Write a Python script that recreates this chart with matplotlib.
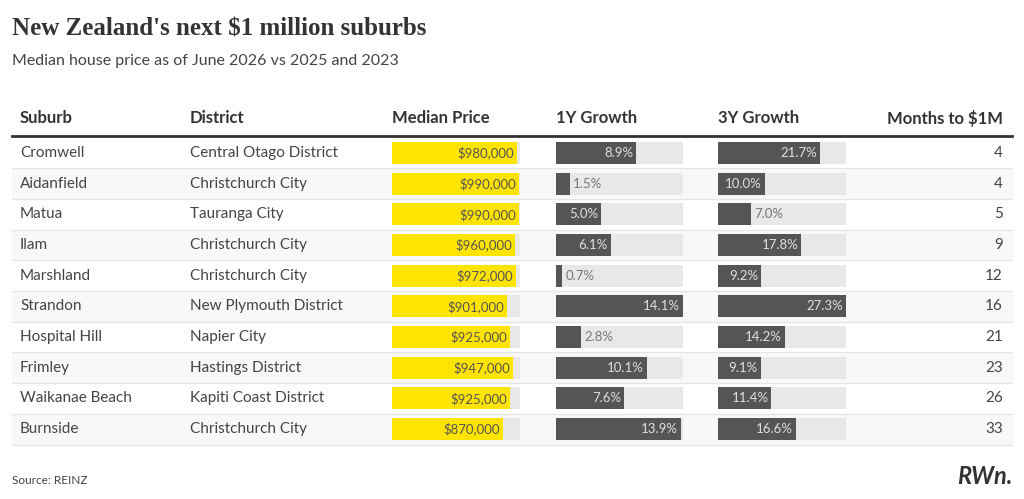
import matplotlib.pyplot as plt
from matplotlib.patches import Rectangle

suburbs = ["Cromwell", "Aidanfield", "Matua", "Ilam", "Marshland", "Strandon",
           "Hospital Hill", "Frimley", "Waikanae Beach", "Burnside"]
districts = ["Central Otago District", "Christchurch City", "Tauranga City", "Christchurch City",
             "Christchurch City", "New Plymouth District", "Napier City", "Hastings District",
             "Kapiti Coast District", "Christchurch City"]
prices = [980000, 990000, 990000, 960000, 972000, 901000, 925000, 947000, 925000, 870000]
growth_1y = [8.9, 1.5, 5.0, 6.1, 0.7, 14.1, 2.8, 10.1, 7.6, 13.9]
growth_3y = [21.7, 10.0, 7.0, 17.8, 9.2, 27.3, 14.2, 9.1, 11.4, 16.6]
months = [4, 4, 5, 9, 12, 16, 21, 23, 26, 33]

plt.rcParams['font.family'] = ['Lato', 'DejaVu Sans']
fig = plt.figure(figsize=(10.24, 4.99), dpi=100)
ax = fig.add_axes([0, 0, 1, 1])
ax.set_xlim(0, 1024)
ax.set_ylim(499, 0)
ax.axis('off')

ax.text(12, 29, "New Zealand's next $1 million suburbs", fontsize=18, fontweight='bold',
        family=['Liberation Serif', 'DejaVu Serif'], color='#333333', va='center')
ax.text(12, 61, "Median house price as of June 2026 vs 2025 and 2023", fontsize=11.5,
        color='#444444', va='center')

hy = 118
for x, t in [(20, "Suburb"), (190, "District"), (392, "Median Price"), (556, "1Y Growth"), (718, "3Y Growth")]:
    ax.text(x, hy, t, fontsize=12, fontweight='bold', color='#333333', va='center')
ax.text(1003, hy, "Months to $1M", fontsize=12, fontweight='bold', color='#333333', va='center', ha='right')
ax.plot([12, 1012], [136, 136], color='#333333', lw=2)

top, rh = 137.5, 30.7
bh = 22
cols = [(392, 128, [p / 1e6 for p in prices], [f"${p:,}" for p in prices], '#ffe400'),
        (556, 127, [g / max(growth_1y) for g in growth_1y], [f"{g:.1f}%" for g in growth_1y], '#555555'),
        (718, 128, [g / max(growth_3y) for g in growth_3y], [f"{g:.1f}%" for g in growth_3y], '#555555')]
for i in range(len(suburbs)):
    yc = top + rh * (i + 0.5)
    if i % 2 == 1:
        ax.add_patch(Rectangle((12, top + rh * i), 1000, rh, color='#f8f8f8', zorder=0))
    ax.plot([12, 1012], [top + rh * (i + 1)] * 2, color='#e4e4e4', lw=0.8)
    ax.text(20, yc, suburbs[i], fontsize=11, color='#444444', va='center')
    ax.text(190, yc, districts[i], fontsize=11, color='#444444', va='center')
    ax.text(1003, yc, str(months[i]), fontsize=11, color='#444444', va='center', ha='right')
    for x0, w, fr, labels, c in cols:
        ax.barh(yc, w, left=x0, height=bh, color='#e8e8e8', zorder=1)
        ax.barh(yc, w * fr[i], left=x0, height=bh, color=c, zorder=2)
        end = x0 + w * fr[i]
        if c == '#ffe400':
            ax.text(end - 3, yc, labels[i], fontsize=9.5, color='#555555', va='center', ha='right', zorder=3)
        elif w * fr[i] > 40:
            ax.text(end - 3, yc, labels[i], fontsize=9.5, color='#e0e0e0', va='center', ha='right', zorder=3)
        else:
            ax.text(end + 3, yc, labels[i], fontsize=9.5, color='#777777', va='center', ha='left', zorder=3)

ax.text(12, 481, "Source: REINZ", fontsize=8.5, color='#444444', va='center')
ax.text(1012, 477, "RWn.", fontsize=17, fontweight='bold', style='italic', color='#333333',
        va='center', ha='right')
fig.savefig("out.png", dpi=100, facecolor='white')
